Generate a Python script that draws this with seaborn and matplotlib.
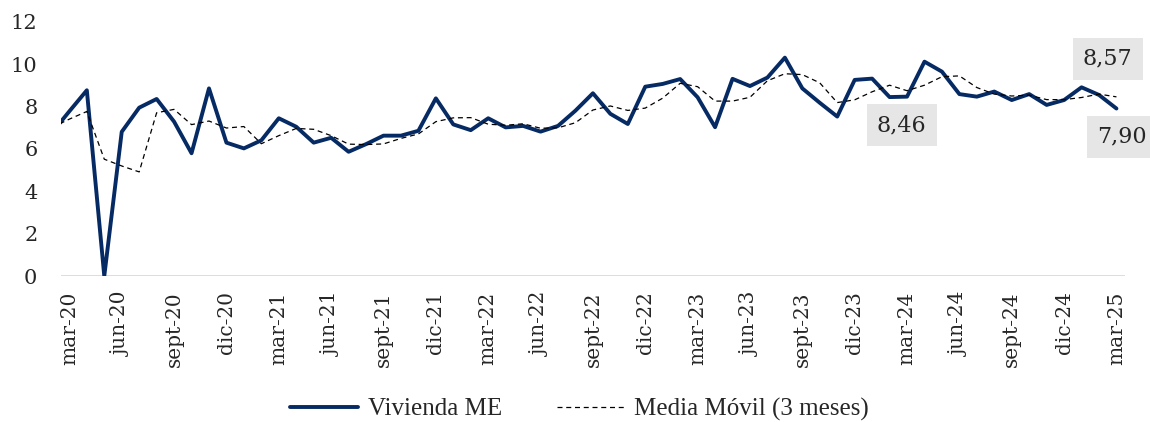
import numpy as np
import pandas as pd
import matplotlib.pyplot as plt
import seaborn as sns

# monthly series, feb-20 .. mar-25 (feb-20 only feeds the clipped first segment)
vivienda_me = [6.76, 7.77, 8.76, 0.00, 6.80, 7.94, 8.35, 7.28, 5.79, 8.85, 6.29,
               6.02, 6.40, 7.44, 7.04, 6.29, 6.52, 5.86, 6.22, 6.62, 6.62, 6.85, 8.38,
               7.15, 6.88, 7.44, 7.01, 7.08, 6.81, 7.08, 7.80, 8.62, 7.65, 7.17, 8.93,
               9.06, 9.29, 8.43, 7.02, 9.30, 8.96, 9.36, 10.30, 8.85, 8.17, 7.52, 9.25,
               9.31, 8.44, 8.46, 10.11, 9.64, 8.58, 8.46, 8.70, 8.30, 8.58, 8.07, 8.30,
               8.90, 8.54, 7.90]
media_movil = [7.00, 7.40, 7.76, 5.51, 5.19, 4.91, 7.70, 7.86, 7.14, 7.31, 6.98,
               7.05, 6.24, 6.62, 6.96, 6.92, 6.62, 6.22, 6.20, 6.23, 6.49, 6.70, 7.28,
               7.46, 7.47, 7.16, 7.11, 7.18, 6.97, 6.99, 7.23, 7.83, 8.02, 7.81, 7.92,
               8.39, 9.09, 8.93, 8.25, 8.25, 8.43, 9.21, 9.54, 9.50, 9.11, 8.18, 8.31,
               8.69, 9.00, 8.74, 9.00, 9.40, 9.44, 8.89, 8.58, 8.49, 8.53, 8.32, 8.32,
               8.42, 8.58, 8.45]
tick_labels = ['mar-20', 'jun-20', 'sept-20', 'dic-20', 'mar-21', 'jun-21', 'sept-21',
               'dic-21', 'mar-22', 'jun-22', 'sept-22', 'dic-22', 'mar-23', 'jun-23',
               'sept-23', 'dic-23', 'mar-24', 'jun-24', 'sept-24', 'dic-24', 'mar-25']
# annotated values: (label, month index, y position of box)
notes = [('8,46', 47.7, 7.12), ('8,57', 59.5, 10.24), ('7,90', 60.3, 6.56)]

df = pd.DataFrame({'mes': np.arange(-1, len(vivienda_me) - 1),
                   'Vivienda ME': vivienda_me,
                   'Media Móvil (3 meses)': media_movil})

sns.set_style("white")
plt.rcParams['font.family'] = ['DejaVu Serif']

fig = plt.figure(figsize=(11.5, 4.22), dpi=100)
ax = fig.add_axes([61/1150, 1 - 276/422, (1125 - 61)/1150, (276 - 21.6)/422])

ax.axhline(0, color='#d9d9d9', lw=2, zorder=1)
sns.lineplot(data=df, x='mes', y='Vivienda ME', ax=ax, color='#062a63', lw=2.8,
             label='Vivienda ME', zorder=3)
sns.lineplot(data=df, x='mes', y='Media Móvil (3 meses)', ax=ax, color='black', lw=0.9,
             linestyle=(0, (4, 3)), label='Media Móvil (3 meses)', zorder=4)

ax.set_xlim(-0.48, 60.49)
ax.set_ylim(0, 12)
ax.set_yticks(range(0, 13, 2))
ax.set_xticks(range(0, 61, 3))
ax.set_xticklabels(tick_labels, rotation=90)
ax.tick_params(axis='y', labelsize=15, pad=17, length=0)
ax.tick_params(axis='x', labelsize=14.5, pad=11, length=0)
ax.set_xlabel('')
ax.set_ylabel('')
for s in ax.spines.values():
    s.set_visible(False)

for txt, xv, yv in notes:
    ax.text(xv, yv, txt, ha='center', va='center', fontsize=16, zorder=5,
            bbox=dict(boxstyle='square,pad=0.45', fc='#e6e6e6', ec='none'))

h, l = ax.get_legend_handles_labels()
ax.get_legend().remove()
fig.legend(h, l, loc='center', bbox_to_anchor=(0.504, 0.03), ncol=2, frameon=False,
           prop={'family': 'Liberation Serif', 'size': 18}, handlelength=2.7,
           columnspacing=2.2, handletextpad=0.4)

fig.savefig('out.png', dpi=100)
